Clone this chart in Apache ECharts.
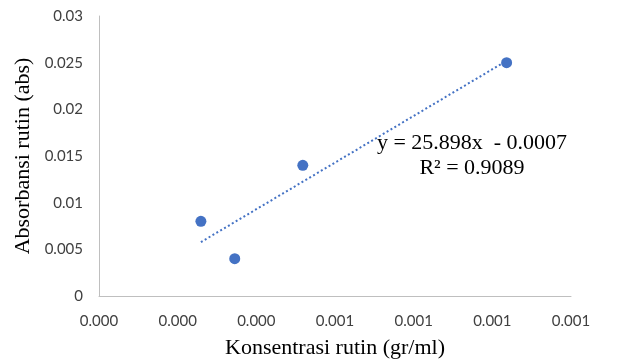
<!DOCTYPE html>
<html>
<head>
<meta charset="utf-8">
<script src="https://cdn.jsdelivr.net/npm/echarts@6/dist/echarts.min.js"></script>
<style>html,body{margin:0;padding:0;background:#fff}#c{width:620px;height:364px}</style>
</head>
<body>
<div id="c"></div>
<script>
// Data
const concentration = [0.00025, 0.000333, 0.0005, 0.001];
const absorbance = [0.008, 0.004, 0.014, 0.025];
const trendSlope = 25.898;
const trendIntercept = -0.0007;
const equationText = 'y = 25.898x  - 0.0007';
const r2Text = 'R² = 0.9089';
const xTitle = 'Konsentrasi rutin (gr/ml)';
const yTitle = 'Absorbansi rutin (abs)';

const points = concentration.map((x, i) => [x, absorbance[i]]);
const xMinD = Math.min(...concentration), xMaxD = Math.max(...concentration);
const trend = [[xMinD, trendSlope * xMinD + trendIntercept], [xMaxD, trendSlope * xMaxD + trendIntercept]];

const chart = echarts.init(document.getElementById('c'), null, {renderer: 'canvas'});
const serif = '"Liberation Serif", "DejaVu Serif", serif';
chart.setOption({
  animation: false,
  grid: {left: 99, right: 49, top: 16, bottom: 67},
  xAxis: {
    type: 'value', min: 0, max: 0.001158, interval: 0.000193,
    name: xTitle, nameLocation: 'middle', nameGap: 41,
    nameTextStyle: {fontFamily: serif, fontSize: 22, color: '#000'},
    axisLine: {show: true, lineStyle: {color: '#BFBFBF', width: 1}},
    axisTick: {show: false},
    splitLine: {show: false},
    axisLabel: {formatter: v => v.toFixed(3), margin: 18, fontFamily: 'Lato', fontSize: 15, color: '#404040'}
  },
  yAxis: {
    type: 'value', min: 0, max: 0.03, interval: 0.005,
    name: yTitle, nameLocation: 'middle', nameGap: 59,
    nameTextStyle: {fontFamily: serif, fontSize: 22, color: '#000'},
    axisLine: {show: true, lineStyle: {color: '#BFBFBF', width: 1}},
    axisTick: {show: false},
    splitLine: {show: false},
    axisLabel: {margin: 16, fontFamily: 'Lato', fontSize: 15, color: '#404040'}
  },
  series: [
    {type: 'line', data: trend, symbol: 'none', silent: true,
     lineStyle: {color: '#4472C4', width: 2, type: [2, 2.5]}},
    {type: 'scatter', data: points, symbolSize: 11, itemStyle: {color: '#4472C4', opacity: 1}}
  ],
  graphic: [
    {type: 'text', x: 472, y: 143, style: {text: equationText, font: '22px ' + serif, fill: '#000', align: 'center', verticalAlign: 'middle'}},
    {type: 'text', x: 472, y: 168, style: {text: r2Text, font: '22px ' + serif, fill: '#000', align: 'center', verticalAlign: 'middle'}}
  ]
});
</script>
</body>
</html>
